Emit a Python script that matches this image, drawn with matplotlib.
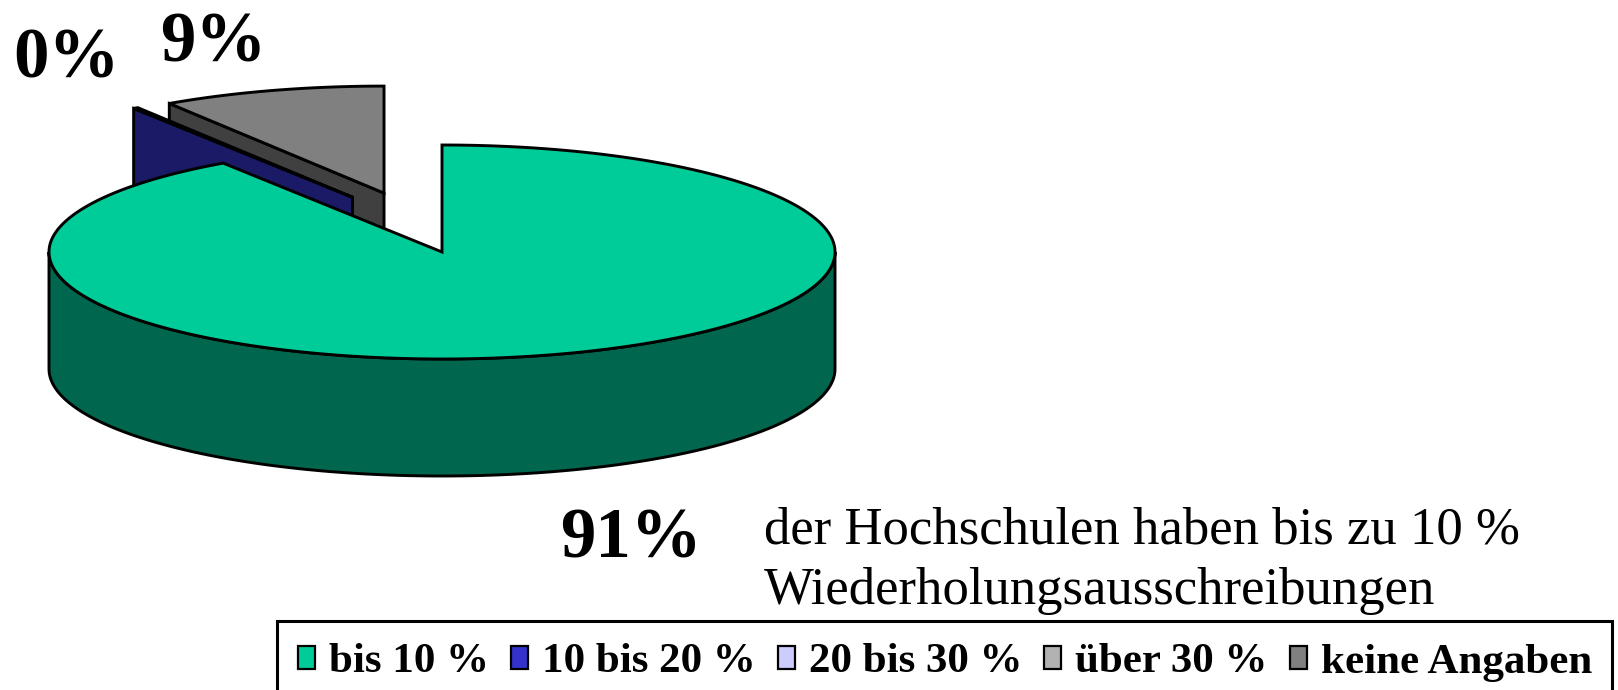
import numpy as np
import matplotlib

matplotlib.use("Agg")
import matplotlib.pyplot as plt
from matplotlib.patches import Polygon, Rectangle

# data
categories = ["bis 10 %", "10 bis 20 %", "20 bis 30 %", "über 30 %", "keine Angaben"]
shares = [90.6, 0.2, 0.0, 0.0, 9.2]
colors = ["#00CC99", "#3333CC", "#CCCCFF", "#B2B2B2", "#808080"]
caption_lines = ["der Hochschulen haben bis zu 10 %", "Wiederholungsausschreibungen"]

# layout (pixels, y pointing down)
W, H = 1618, 690
CX, CY = 442, 252
RX, RY = 393, 107
DEPTH = 117
START = 90.0
EXPLODE = [0.0, 0.56, 0.0, 0.0, 0.57]
EXPLODE_DIR = [None, 114.0, None, None, 105.0]  # pushed out like the original
LABEL_XY = [(560, 557), (13, 78), None, None, (160, 62)]
SERIF = "Liberation Serif"
LW = 2.1


def shade(hex_color, f=0.5):
    rgb = np.array(matplotlib.colors.to_rgb(hex_color))
    return tuple(rgb * f)


def ell(t_deg, ox=0.0, oy=0.0, dy=0.0):
    t = np.radians(t_deg)
    return np.column_stack([CX + ox + RX * np.cos(t), CY + oy - RY * np.sin(t) + dy])


fig = plt.figure(figsize=(W / 100, H / 100), dpi=100)
ax = fig.add_axes([0, 0, 1, 1])
ax.set_xlim(0, W)
ax.set_ylim(H, 0)
ax.axis("off")

# slice angles, clockwise from 12 o'clock
slices = []
t = START
for i, v in enumerate(shares):
    t1, t2 = t, t - v * 3.6
    t = t2
    if v <= 0:
        continue
    d = EXPLODE_DIR[i] if EXPLODE_DIR[i] is not None else (t1 + t2) / 2
    mid = np.radians(d)
    ox = EXPLODE[i] * RX * np.cos(mid)
    oy = -EXPLODE[i] * RY * np.sin(mid)
    slices.append((np.sin(mid), i, t1, t2, ox, oy))

# back slices first
slices.sort(key=lambda s: -s[0])
z = 1
for _, i, t1, t2, ox, oy in slices:
    top = colors[i]
    side = shade(top)
    vx, vy = CX + ox, CY + oy

    # radial walls
    for edge, visible in ((t1, np.cos(np.radians(t1)) < -1e-9), (t2, np.cos(np.radians(t2)) > 1e-9)):
        if not visible:
            continue
        p = ell([edge], ox, oy)[0]
        quad = [(vx, vy), tuple(p), (p[0], p[1] + DEPTH), (vx, vy + DEPTH)]
        ax.add_patch(Polygon(quad, closed=True, fc=side, ec="black", lw=LW, zorder=z))
        z += 1

    # outer wall (front half only)
    for k in (-1, 0, 1):
        lo, hi = max(t2, -180 + 360 * k), min(t1, 360 * k)
        if lo >= hi:
            continue
        ts = np.linspace(hi, lo, 200)
        upper = ell(ts, ox, oy)
        lower = ell(ts[::-1], ox, oy, DEPTH)
        ax.add_patch(Polygon(np.vstack([upper, lower]), closed=True,
                             fc=side, ec="black", lw=LW, zorder=z))
        z += 1

    # top face
    ts = np.linspace(t1, t2, max(int(abs(t1 - t2) * 2), 4))
    pts = np.vstack([[vx, vy], ell(ts, ox, oy)])
    ax.add_patch(Polygon(pts, closed=True, fc=top, ec="black", lw=LW,
                         joinstyle="miter", zorder=z))
    z += 1

# percentage labels
for i, v in enumerate(shares):
    if v <= 0 or LABEL_XY[i] is None:
        continue
    x, y = LABEL_XY[i]
    ax.text(x, y, f"{round(v)}%", family=SERIF, weight="bold", fontsize=51,
            ha="left", va="baseline", zorder=50)

# caption
ax.text(764, 543, caption_lines[0], family=SERIF, fontsize=38, ha="left", va="baseline")
ax.text(764, 604, caption_lines[1], family=SERIF, fontsize=38, ha="left", va="baseline")

# legend box (runs off the bottom edge like the original)
ax.add_patch(Rectangle((277, 621), 1612 - 277, 120, fc="white", ec="black",
                       lw=2.2, clip_on=False, zorder=60))
renderer = fig.canvas.get_renderer()
x = 298
ly = 658
for name, col in zip(categories, colors):
    ax.add_patch(Rectangle((x, ly - 12), 17, 23, fc=col, ec="black", lw=1.6, zorder=61))
    txt = ax.text(x + 31, ly, name, family=SERIF, weight="bold", fontsize=31,
                  ha="left", va="center_baseline", zorder=62)
    wpx = txt.get_window_extent(renderer).width
    x += 31 + wpx + 22

fig.savefig("out.png", dpi=100)
